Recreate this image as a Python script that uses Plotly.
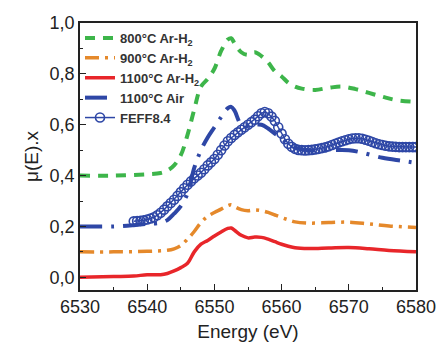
import plotly.graph_objects as go

# ---- data ----
e_800 = [6530, 6535, 6540, 6542, 6543, 6544, 6545, 6546, 6547, 6548, 6549, 6550, 6551, 6552, 6552.5,
         6553, 6554, 6555, 6556, 6557, 6558, 6559, 6560, 6561, 6562, 6563, 6565, 6567, 6569, 6571,
         6573, 6575, 6577, 6580]
mu_800 = [0.40, 0.40, 0.405, 0.41, 0.42, 0.44, 0.48, 0.56, 0.66, 0.75, 0.78, 0.82, 0.89, 0.935, 0.94,
          0.92, 0.885, 0.875, 0.885, 0.87, 0.845, 0.81, 0.79, 0.765, 0.75, 0.742, 0.737, 0.745, 0.75, 0.74,
          0.725, 0.71, 0.697, 0.69]

e_900 = [6530, 6535, 6540, 6543, 6544, 6545, 6546, 6547, 6548, 6549, 6550, 6551, 6552, 6552.5, 6553,
         6554, 6555, 6556, 6557, 6558, 6559, 6560, 6561, 6562, 6564, 6567, 6570, 6573, 6576, 6580]
mu_900 = [0.10, 0.10, 0.102, 0.106, 0.112, 0.125, 0.15, 0.18, 0.215, 0.24, 0.255, 0.268, 0.282, 0.285, 0.278,
          0.266, 0.262, 0.265, 0.262, 0.255, 0.245, 0.235, 0.226, 0.218, 0.213, 0.215, 0.217, 0.21, 0.202, 0.196]

e_1100 = [6530, 6535, 6538, 6540, 6542, 6543, 6544, 6545, 6546, 6547, 6548, 6549, 6550, 6551, 6552, 6552.5,
          6553, 6554, 6555, 6556, 6557, 6558, 6559, 6560, 6561, 6562, 6564, 6567, 6570, 6573, 6576, 6580]
mu_1100 = [0.0, 0.003, 0.005, 0.01, 0.01, 0.015, 0.025, 0.038, 0.055, 0.10, 0.13, 0.145, 0.162, 0.178, 0.192, 0.194,
           0.185, 0.165, 0.155, 0.158, 0.157, 0.15, 0.14, 0.13, 0.122, 0.116, 0.113, 0.115, 0.117, 0.112, 0.105, 0.10]

e_air = [6530, 6535, 6538, 6540, 6542, 6543, 6544, 6545, 6546, 6547, 6548, 6549, 6550, 6551, 6552, 6552.5,
         6553, 6554, 6555, 6556, 6557, 6558, 6559, 6560, 6561, 6562, 6564, 6567, 6570, 6572, 6575, 6578, 6580]
mu_air = [0.2, 0.2, 0.205, 0.21, 0.215, 0.225, 0.25, 0.28, 0.33, 0.43, 0.5, 0.55, 0.59, 0.63, 0.665, 0.67,
          0.655, 0.6, 0.595, 0.6, 0.6, 0.585, 0.565, 0.545, 0.525, 0.51, 0.5, 0.5, 0.5, 0.49, 0.47, 0.458, 0.45]

e_feff = [6538.0, 6538.5, 6539.0, 6539.5, 6540.0, 6540.5, 6541.0, 6541.5, 6542.0, 6542.5, 6543.0, 6543.5,
          6544.0, 6544.5, 6545.0, 6545.5, 6546.0, 6546.5, 6547.0, 6547.5, 6548.0, 6548.5, 6549.0, 6549.5,
          6550.0, 6550.5, 6551.0, 6551.5, 6552.0, 6552.5, 6553.0, 6553.5, 6554.0, 6554.5, 6555.0, 6555.5,
          6556.0, 6556.5, 6557.0, 6557.5, 6558.0, 6558.5, 6559.0, 6559.5, 6560.0, 6560.5, 6561.0, 6561.5,
          6562.0, 6562.5, 6563.0, 6563.5, 6564.0, 6564.5, 6565.0, 6565.5, 6566.0, 6566.5, 6567.0, 6567.5,
          6568.0, 6568.5, 6569.0, 6569.5, 6570.0, 6570.5, 6571.0, 6571.5, 6572.0, 6572.5, 6573.0, 6573.5,
          6574.0, 6574.5, 6575.0, 6575.5, 6576.0, 6576.5, 6577.0, 6577.5, 6578.0, 6578.5, 6579.0, 6579.5, 6580.0]
mu_feff = [0.220, 0.221, 0.222, 0.224, 0.227, 0.231, 0.236, 0.244, 0.254, 0.266, 0.279, 0.292,
           0.305, 0.320, 0.335, 0.350, 0.364, 0.377, 0.389, 0.400, 0.411, 0.425, 0.440, 0.452,
           0.465, 0.482, 0.500, 0.518, 0.535, 0.548, 0.560, 0.570, 0.580, 0.590, 0.600, 0.610,
           0.620, 0.633, 0.645, 0.650, 0.645, 0.632, 0.615, 0.590, 0.565, 0.543, 0.525, 0.513,
           0.505, 0.501, 0.500, 0.499, 0.500, 0.501, 0.503, 0.505, 0.508, 0.511, 0.515, 0.520,
           0.525, 0.530, 0.535, 0.539, 0.543, 0.546, 0.547, 0.547, 0.545, 0.541, 0.537, 0.532,
           0.527, 0.523, 0.520, 0.517, 0.515, 0.514, 0.513, 0.512, 0.512, 0.512, 0.512, 0.512, 0.512]

x_ticks = [6530, 6540, 6550, 6560, 6570, 6580]
y_ticks = [0.0, 0.2, 0.4, 0.6, 0.8, 1.0]
y_tick_labels = ["0,0", "0,2", "0,4", "0,6", "0,8", "1,0"]

GREEN = "#3db54a"
ORANGE = "#e5892b"
RED = "#e8262a"
BLUE = "#2e47a6"

fig = go.Figure()
fig.add_trace(go.Scatter(x=e_800, y=mu_800, mode="lines", name="<b>800°C Ar-H<sub>2</sub></b>",
                         line=dict(color=GREEN, width=4, dash="10px,8px"), line_shape="spline"))
fig.add_trace(go.Scatter(x=e_900, y=mu_900, mode="lines", name="<b>900°C Ar-H<sub>2</sub></b>",
                         line=dict(color=ORANGE, width=3.5, dash="14px,6px,3px,6px"), line_shape="spline"))
fig.add_trace(go.Scatter(x=e_1100, y=mu_1100, mode="lines", name="<b>1100°C Ar-H<sub>2</sub></b>",
                         line=dict(color=RED, width=3.5), line_shape="spline"))
fig.add_trace(go.Scatter(x=e_air, y=mu_air, mode="lines", name="<b>1100°C Air</b>",
                         line=dict(color=BLUE, width=4, dash="22px,9px,3px,9px"), line_shape="spline"))
fig.add_trace(go.Scatter(x=e_feff, y=mu_feff, mode="lines+markers", name="<b>FEFF8.4</b>",
                         line=dict(color=BLUE, width=1.5),
                         marker=dict(symbol="circle-open", size=9, color=BLUE, line=dict(width=1.6))))

axis_font = dict(family="Liberation Sans, Arial, sans-serif", size=18, color="#222")

fig.update_layout(
    width=438, height=342,
    margin=dict(l=80, r=22, t=23, b=52),
    paper_bgcolor="white", plot_bgcolor="white",
    font=axis_font,
    showlegend=True,
    legend=dict(x=0.0, y=1.0, xanchor="left", yanchor="top", bgcolor="rgba(0,0,0,0)",
                font=dict(family="Liberation Sans, Arial, sans-serif", size=13, color="#333"),
                itemwidth=30, tracegroupgap=0),
    xaxis=dict(range=[6530, 6580], tickvals=x_ticks, ticktext=[str(v) for v in x_ticks],
               showline=True, linecolor="#222", linewidth=1.5, mirror=True,
               ticks="inside", ticklen=6, tickwidth=1.2, tickcolor="#222",
               minor=dict(ticks="inside", ticklen=3, tickwidth=1.2, tickcolor="#222", dtick=5),
               showgrid=False, zeroline=False, automargin=False,
               title=dict(text="Energy (eV)", font=dict(size=19), standoff=8)),
    yaxis=dict(range=[-0.05, 1.0], tickvals=y_ticks, ticktext=y_tick_labels,
               showline=True, linecolor="#222", linewidth=1.5, mirror=True,
               ticks="inside", ticklen=6, tickwidth=1.2, tickcolor="#222",
               minor=dict(ticks="inside", ticklen=3, tickwidth=1.2, tickcolor="#222", dtick=0.1),
               showgrid=False, zeroline=False, automargin=False,
               title=dict(text="μ(E).x", font=dict(size=19), standoff=6)),
)

fig.write_html("out.html")
